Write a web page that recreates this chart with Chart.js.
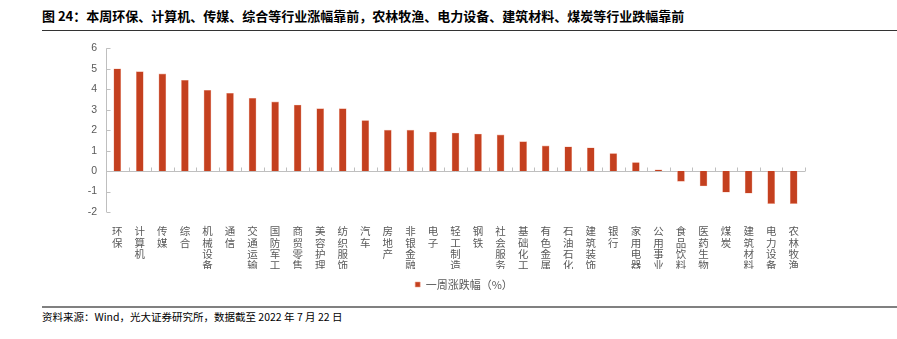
<!DOCTYPE html>
<html>
<head>
<meta charset="utf-8">
<script src="https://cdn.jsdelivr.net/npm/chart.js@4"></script>
<style>
    body { margin: 0; background: #fff; width: 897px; height: 339px; position: relative; overflow: hidden; }
    #title {
        position: absolute; left: 42px; top: 6px;
        font: bold 13px "Noto Sans CJK SC", sans-serif; color: #000; white-space: nowrap;
    }
    #titleLine { position: absolute; left: 42px; right: 0; top: 30px; height: 1px; background: #333; }
    #chartBox { position: absolute; left: 42px; top: 33px; width: 844px; height: 267px; }
    #footLine { position: absolute; left: 42px; right: 0; top: 306px; height: 2px; background: #808080; }
    #source {
        position: absolute; left: 42px; top: 309px;
        font: 10.5px "Noto Sans CJK SC", sans-serif; color: #000; white-space: nowrap;
    }
</style>
</head>
<body>
<div id="title">图 24：本周环保、计算机、传媒、综合等行业涨幅靠前，农林牧渔、电力设备、建筑材料、煤炭等行业跌幅靠前</div>
<div id="titleLine"></div>
<div id="chartBox"><canvas id="weeklyChart"></canvas></div>
<div id="footLine"></div>
<div id="source">资料来源：Wind，光大证券研究所，数据截至 2022 年 7 月 22 日</div>

<script>
// 行业名称
const industries = ['环保', '计算机', '传媒', '综合', '机械设备', '通信', '交通运输', '国防军工',
    '商贸零售', '美容护理', '纺织服饰', '汽车', '房地产', '非银金融', '电子', '轻工制造',
    '钢铁', '社会服务', '基础化工', '有色金属', '石油石化', '建筑装饰', '银行', '家用电器',
    '公用事业', '食品饮料', '医药生物', '煤炭', '建筑材料', '电力设备', '农林牧渔'];

// 一周涨跌幅 (%)
const weeklyChange = [5.00, 4.86, 4.75, 4.44, 3.95, 3.80, 3.56, 3.38,
    3.23, 3.05, 3.05, 2.47, 2.00, 2.00, 1.91, 1.86,
    1.81, 1.77, 1.44, 1.23, 1.19, 1.14, 0.86, 0.42,
    0.06, -0.50, -0.73, -1.03, -1.08, -1.59, -1.59];

// y 轴刻度
const yMin = -2;
const yMax = 6;
const yStep = 1;

const seriesName = '一周涨跌幅（%）';
const axisGray = '#bfbfbf';
const textGray = '#595959';

// 竖排标签: 每个字一行
const verticalLabels = industries.map(name => name.split(''));

// 坐标轴线和小刻度 (0 轴上的刻度朝上, y 轴刻度朝内)
const axisMarks = {
    id: 'axisMarks',
    beforeDatasetsDraw(chart) {
        const { ctx, chartArea, scales } = chart;
        const x = scales.x;
        const y = scales.y;
        const y0 = Math.round(y.getPixelForValue(0)) + 0.5;
        const left = Math.round(chartArea.left) + 0.5;

        ctx.save();
        ctx.strokeStyle = axisGray;
        ctx.lineWidth = 1;
        ctx.beginPath();
        // y 轴
        ctx.moveTo(left, y.getPixelForValue(yMax));
        ctx.lineTo(left, y.getPixelForValue(yMin));
        y.ticks.forEach(t => {
            const py = Math.round(y.getPixelForValue(t.value)) + 0.5;
            ctx.moveTo(left, py);
            ctx.lineTo(left + 4, py);
        });
        // 0 轴
        ctx.moveTo(left, y0);
        ctx.lineTo(chartArea.right, y0);
        const n = industries.length;
        for (let i = 1; i <= n; i++) {
            const px = Math.round((x.getPixelForValue(i - 1) + x.getPixelForValue(Math.min(i, n - 1))) / 2);
            const bx = i === n ? Math.round(chartArea.right) : px;
            ctx.moveTo(bx + 0.5, y0);
            ctx.lineTo(bx + 0.5, y0 - 4);
        }
        ctx.stroke();
        ctx.restore();
    }
};

new Chart(document.getElementById('weeklyChart'), {
    type: 'bar',
    data: {
        labels: verticalLabels,
        datasets: [{
            label: seriesName,
            data: weeklyChange,
            backgroundColor: '#C4401F',
            borderColor: 'rgba(236,160,140,0.9)',
            borderWidth: 0.6,
            barThickness: 7
        }]
    },
    options: {
        responsive: true,
        maintainAspectRatio: false,
        animation: false,
        layout: { padding: { top: 3, left: 0, right: 0, bottom: 0 } },
        plugins: {
            legend: {
                position: 'bottom',
                labels: {
                    boxWidth: 5,
                    boxHeight: 5,
                    padding: 10,
                    color: textGray,
                    font: { family: '"Noto Sans CJK SC", sans-serif', size: 11 }
                }
            },
            tooltip: { enabled: false }
        },
        scales: {
            x: {
                grid: { display: false },
                border: { display: false },
                ticks: {
                    autoSkip: false,
                    maxRotation: 0,
                    padding: 6,
                    color: textGray,
                    font: { family: '"Noto Sans CJK SC", sans-serif', size: 10.5, lineHeight: 1.05 }
                },
                afterFit: scale => { scale.height = 57; }
            },
            y: {
                min: yMin,
                max: yMax,
                grid: { display: false, drawTicks: false },
                border: { display: false },
                ticks: {
                    stepSize: yStep,
                    padding: 9,
                    color: textGray,
                    font: { family: 'Arial, "Liberation Sans", sans-serif', size: 10.5 }
                },
                afterFit: scale => { scale.width = 64; }
            },
            // 右侧占位, 让绘图区右边留白
            yRight: {
                position: 'right',
                grid: { display: false },
                border: { display: false },
                ticks: { display: false },
                afterFit: scale => { scale.width = 81; }
            }
        }
    },
    plugins: [axisMarks]
});
</script>
</body>
</html>
